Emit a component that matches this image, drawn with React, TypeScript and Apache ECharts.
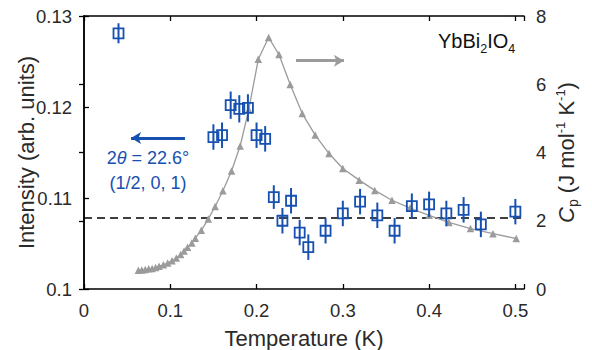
import React, { useEffect, useRef } from 'react';
import * as echarts from 'echarts';

// Neutron intensity (left axis)
const intensityT = [0.04, 0.15, 0.16, 0.17, 0.18, 0.19, 0.2, 0.21, 0.22, 0.23, 0.24, 0.25, 0.26, 0.28, 0.3, 0.32, 0.34, 0.36, 0.38, 0.4, 0.42, 0.44, 0.46, 0.5];
const intensity = [0.1281, 0.1167, 0.1169, 0.1202, 0.1198, 0.1199, 0.1169, 0.1165, 0.1101, 0.1075, 0.1097, 0.1062, 0.1046, 0.1064, 0.1083, 0.1096, 0.1081, 0.1064, 0.1091, 0.1093, 0.1083, 0.1087, 0.1071, 0.1085];
const intensityErr = [0.0011, 0.0014, 0.0014, 0.0015, 0.0015, 0.0015, 0.0014, 0.0014, 0.0013, 0.0014, 0.0014, 0.0014, 0.0014, 0.0014, 0.0014, 0.0014, 0.0014, 0.0014, 0.0014, 0.0014, 0.0014, 0.0014, 0.0014, 0.0014];
const background = 0.1078;

// Specific heat (right axis)
const cpT = [0.063, 0.067, 0.071, 0.075, 0.079, 0.083, 0.087, 0.092, 0.097, 0.102, 0.107, 0.112, 0.116, 0.12, 0.125, 0.129, 0.136, 0.144, 0.152, 0.161, 0.171, 0.181, 0.191, 0.202, 0.214, 0.226, 0.239, 0.253, 0.268, 0.284, 0.3, 0.319, 0.337, 0.357, 0.378, 0.4, 0.423, 0.448, 0.474, 0.501];
const cp = [0.55, 0.56, 0.57, 0.59, 0.6, 0.63, 0.67, 0.71, 0.76, 0.83, 0.91, 1.01, 1.11, 1.22, 1.35, 1.49, 1.72, 2.05, 2.42, 2.88, 3.46, 4.19, 5.26, 6.73, 7.37, 6.87, 5.99, 5.14, 4.51, 3.97, 3.53, 3.19, 2.89, 2.6, 2.37, 2.16, 1.95, 1.77, 1.62, 1.48];

// Axis ranges
const xRange = [0, 0.51];
const leftRange = [0.1, 0.13];
const rightRange = [0, 8];

// Annotation arrows (data coordinates)
const blueArrow = [[0.117, 0.1166], [0.0545, 0.1166]];
const grayArrow = [[0.2457, 6.69], [0.3013, 6.69]];

const BLUE = '#1650b0';
const GRAY = '#9b9b9b';
const FONT = "'Liberation Sans', Arial, Helvetica, sans-serif";
const TXT = '#2a2a2a';

export default function App() {
  const ref = useRef<HTMLDivElement>(null);
  useEffect(() => {
    if (!ref.current) return;
    const chart = echarts.init(ref.current, null, { renderer: 'svg' });
    const axisLine = { show: true, lineStyle: { color: '#000', width: 1.5 } };
    const axisTick = { show: true, inside: true, length: 5, lineStyle: { color: '#000', width: 1.3 } };
    const labelStyle = { fontSize: 18.5, color: TXT, fontFamily: FONT };
    const nameStyle = { fontSize: 22, color: TXT, fontFamily: FONT };
    const intData = intensityT.map((t, i) => [t, intensity[i], intensityErr[i]]);
    const cpData = cpT.map((t, i) => [t, cp[i]]);

    chart.setOption({
      animation: false,
      backgroundColor: '#fff',
      grid: { left: 84, right: 68, top: 16, bottom: 61, containLabel: false, outerBoundsMode: 'none' },
      xAxis: [
        {
          type: 'value', min: xRange[0], max: xRange[1], interval: 0.1, position: 'bottom',
          axisLine, axisTick, splitLine: { show: false },
          axisLabel: {
            ...labelStyle, margin: 12,
            formatter: (v: number) => {
              const r = Math.round(v * 10) / 10;
              return Math.abs(v - r) < 1e-9 ? String(r) : '';
            },
          },
          name: 'Temperature (K)', nameLocation: 'middle', nameGap: 38, nameMoveOverlap: false,
          nameTextStyle: nameStyle,
        },
        {
          type: 'value', min: xRange[0], max: xRange[1], interval: 0.1, position: 'top',
          axisLine, axisTick, splitLine: { show: false }, axisLabel: { show: false },
        },
      ],
      yAxis: [
        {
          type: 'value', min: leftRange[0], max: leftRange[1], interval: 0.01, position: 'left',
          axisLine, axisTick, splitLine: { show: false },
          axisLabel: { ...labelStyle, margin: 12, formatter: (v: number) => String(+v.toFixed(2)) },
          name: 'Intensity (arb. units)', nameLocation: 'middle', nameGap: 47, nameMoveOverlap: false,
          nameTextStyle: nameStyle,
        },
        {
          type: 'value', min: rightRange[0], max: rightRange[1], interval: 2, position: 'right',
          axisLine, axisTick, splitLine: { show: false },
          axisLabel: { ...labelStyle, margin: 12 },
          name: '{it|C}{sub|p} (J mol{sup|-1} K{sup|-1})', nameLocation: 'middle', nameGap: 31,
          nameMoveOverlap: false,
          nameTextStyle: {
            ...nameStyle,
            rich: {
              it: { fontSize: 22, fontStyle: 'italic', color: TXT, fontFamily: FONT, lineHeight: 22 },
              sub: { fontSize: 14, color: TXT, fontFamily: FONT, lineHeight: 14, padding: [14, 0, 0, 0] },
              sup: { fontSize: 13, color: TXT, fontFamily: FONT, lineHeight: 13, padding: [0, 0, 12, 0] },
            },
          },
        },
      ],
      series: [
        {
          type: 'line', xAxisIndex: 0, yAxisIndex: 0, z: 1,
          data: [[xRange[0], background], [xRange[1], background]],
          symbol: 'none', silent: true,
          lineStyle: { color: '#000', width: 1.5, type: [8, 5] },
          markLine: {
            silent: true, symbol: ['none', 'arrow'], symbolSize: [9, 10],
            label: { show: false },
            lineStyle: { color: BLUE, width: 3, type: 'solid' },
            data: [[{ coord: blueArrow[0] }, { coord: blueArrow[1] }]],
          },
        },
        {
          type: 'line', xAxisIndex: 0, yAxisIndex: 1, z: 2,
          data: cpData,
          symbol: 'triangle', symbolSize: 7.5, showSymbol: true,
          itemStyle: { color: GRAY },
          lineStyle: { color: GRAY, width: 1.3 },
          markLine: {
            silent: true, symbol: ['none', 'arrow'], symbolSize: [9, 10],
            label: { show: false },
            lineStyle: { color: GRAY, width: 3, type: 'solid' },
            data: [[{ coord: grayArrow[0] }, { coord: grayArrow[1] }]],
          },
        },
        {
          type: 'custom', xAxisIndex: 0, yAxisIndex: 0, z: 3,
          data: intData,
          encode: { x: 0, y: 1 },
          renderItem: (params: any, api: any) => {
            const x = api.value(0), y = api.value(1), e = api.value(2);
            const c = api.coord([x, y]);
            const hi = api.coord([x, y + e]);
            const lo = api.coord([x, y - e]);
            return {
              type: 'group',
              children: [
                { type: 'line', shape: { x1: c[0], y1: hi[1], x2: c[0], y2: lo[1] }, style: { stroke: BLUE, lineWidth: 2 } },
                { type: 'rect', shape: { x: c[0] - 5, y: c[1] - 5, width: 10, height: 10 }, style: { fill: 'none', stroke: BLUE, lineWidth: 1.8 } },
              ],
            };
          },
        },
      ],
      graphic: [
        {
          type: 'text', left: 438, top: 26, silent: true,
          style: {
            text: 'YbBi{s|2}IO{s|4}',
            fill: '#111', fontSize: 20, fontFamily: FONT,
            rich: {
              s: { fontSize: 12.5, fill: '#111', fontFamily: FONT, lineHeight: 12, padding: [16, 0, 0, 0] },
            },
          },
        },
        {
          type: 'text', x: 148, y: 158, silent: true,
          style: {
            text: '2{i|θ} = 22.6°', fill: BLUE, fontSize: 18, fontFamily: FONT,
            align: 'center', verticalAlign: 'middle',
            rich: { i: { fontStyle: 'italic', fill: BLUE, fontSize: 18, fontFamily: FONT } },
          },
        },
        {
          type: 'text', x: 148, y: 183, silent: true,
          style: {
            text: '(1/2, 0, 1)', fill: BLUE, fontSize: 18, fontFamily: FONT,
            align: 'center', verticalAlign: 'middle',
          },
        },
      ],
    });
    return () => chart.dispose();
  }, []);
  return <div ref={ref} style={{ position: 'fixed', left: 0, top: 0, width: 592, height: 350 }} />;
}
